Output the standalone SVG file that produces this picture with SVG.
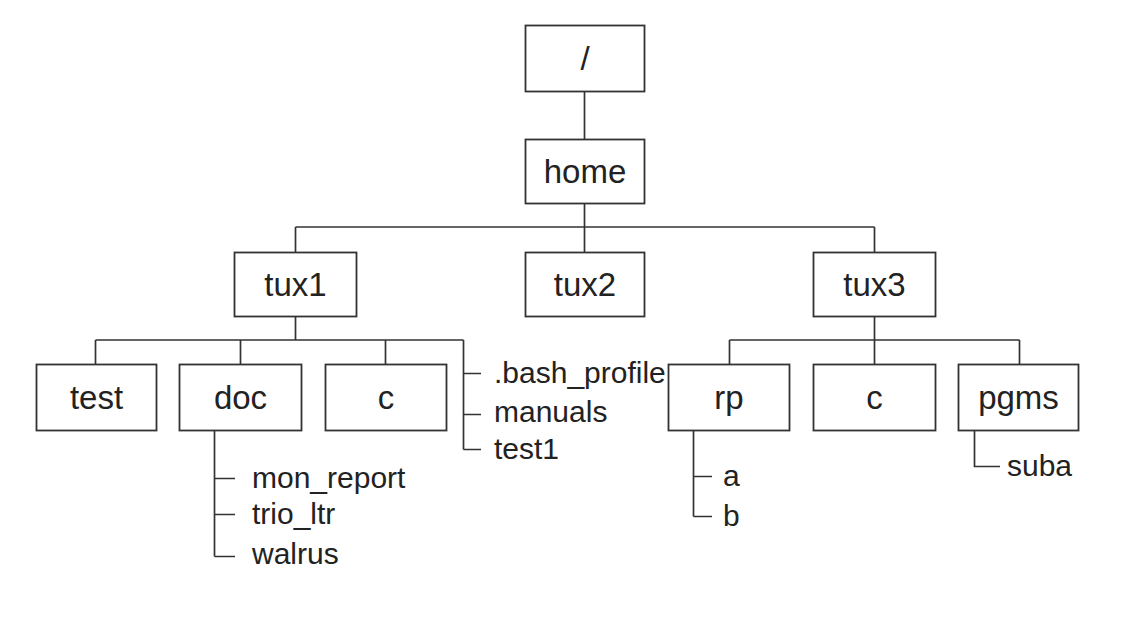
<svg xmlns="http://www.w3.org/2000/svg" width="1124" height="640" viewBox="0 0 1124 640">
<style>
rect.n{fill:#fff;stroke:#333;stroke-width:1.8}
.c path{fill:none;stroke:#333;stroke-width:1.7}
text{font-family:"Liberation Sans",Arial,sans-serif;font-size:30px;fill:#222}
.bt{text-anchor:middle;font-size:33px}
</style>
<rect width="1124" height="640" fill="#fff"/>
<g class="c" id="connectors">
<path d="M584.5 91V139"/>
<path d="M584.5 203V227M295.5 227H874.5M295.5 227V252M584.5 227V252M874.5 227V252"/>
<path d="M295.5 316V340M95.5 340H463.5M95.5 340V364M240.5 340V364M385.5 340V364M463.5 340V449.5"/>
<path d="M463.5 373.5H481M463.5 414.5H481M463.5 449.5H481"/>
<path d="M214.5 430V556.5M214.5 478.5H235M214.5 514.5H235M214.5 556.5H235"/>
<path d="M874.5 316V340M729.5 340H1019.5M729.5 340V364M874.5 340V364M1019.5 340V364"/>
<path d="M693.5 430V516.5M693.5 476.5H712M693.5 516.5H712"/>
<path d="M974.5 430V466.5H1000"/>
</g>
<g id="root"><rect class="n" x="525.5" y="25.5" width="119" height="66"/><text class="bt" x="585" y="70">/</text></g>
<g id="home"><rect class="n" x="525.5" y="139.5" width="119" height="64"/><text class="bt" x="585" y="183">home</text></g>
<g id="tux1"><rect class="n" x="234.5" y="252.5" width="122" height="64"/><text class="bt" x="295.5" y="296">tux1</text></g>
<g id="tux2"><rect class="n" x="525.5" y="252.5" width="119" height="64"/><text class="bt" x="585" y="296">tux2</text></g>
<g id="tux3"><rect class="n" x="813.5" y="252.5" width="122" height="64"/><text class="bt" x="874.5" y="296">tux3</text></g>
<g id="test"><rect class="n" x="36.5" y="364.5" width="120" height="66"/><text class="bt" x="96.5" y="409">test</text></g>
<g id="doc"><rect class="n" x="179.5" y="364.5" width="122" height="66"/><text class="bt" x="240.5" y="409">doc</text></g>
<g id="c1"><rect class="n" x="325.5" y="364.5" width="121" height="66"/><text class="bt" x="386" y="409">c</text></g>
<g id="tux1-files"><text x="494" y="383">.bash_profile</text><text x="494" y="422">manuals</text><text x="494" y="459">test1</text></g>
<g id="doc-files"><text x="252" y="488">mon_report</text><text x="252" y="524">trio_ltr</text><text x="252" y="564">walrus</text></g>
<g id="rp"><rect class="n" x="668.5" y="364.5" width="121" height="66"/><text class="bt" x="729" y="409">rp</text></g>
<g id="c3"><rect class="n" x="813.5" y="364.5" width="122" height="66"/><text class="bt" x="874.5" y="409">c</text></g>
<g id="pgms"><rect class="n" x="958.5" y="364.5" width="120" height="66"/><text class="bt" x="1018.5" y="409">pgms</text></g>
<g id="rp-files"><text x="723" y="486">a</text><text x="723" y="526">b</text></g>
<g id="pgms-files"><text x="1007" y="476">suba</text></g>
</svg>
